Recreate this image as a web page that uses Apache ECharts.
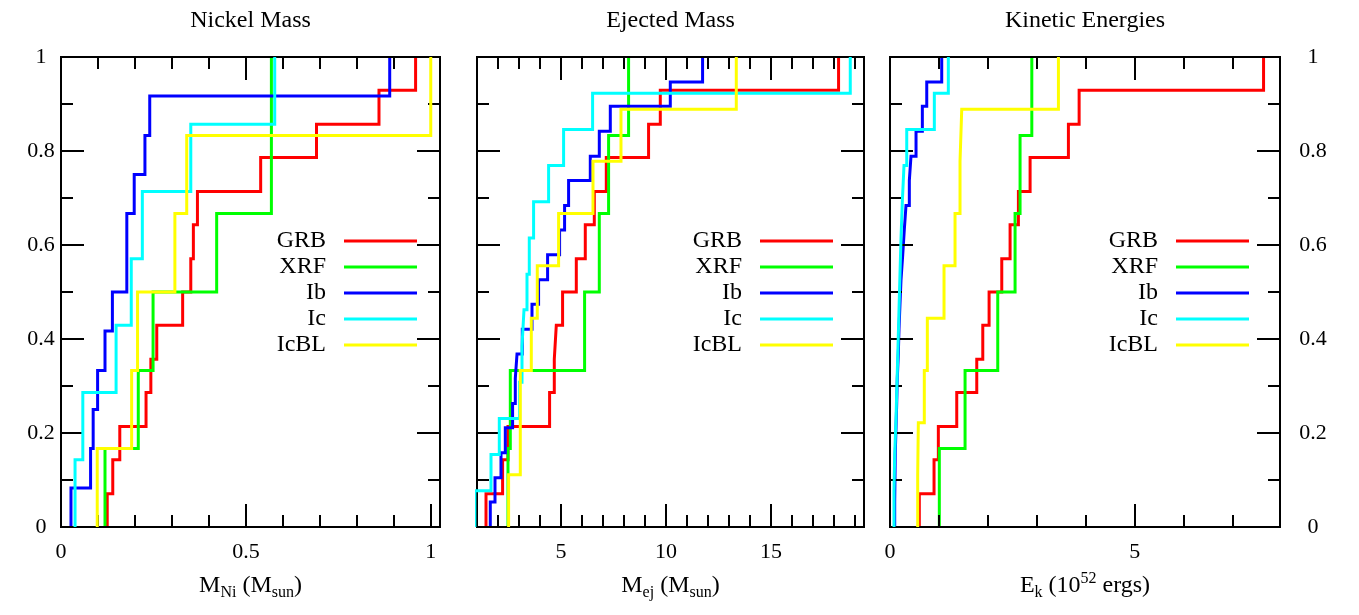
<!DOCTYPE html>
<html>
<head>
<meta charset="utf-8">
<title>SN / GRB distributions</title>
<script src="https://cdn.jsdelivr.net/npm/echarts@6/dist/echarts.min.js"></script>
<style>
html, body { margin: 0; padding: 0; background: #fff; }
#chart { width: 1359px; height: 615px; }
</style>
</head>
<body>
<div id="chart"></div>
<script>
var FONT = '"Liberation Serif", "Times New Roman", serif';
var BLACK = '#000';

var seriesNames = ['GRB', 'XRF', 'Ib', 'Ic', 'IcBL'];
var seriesColors = ['#ff0000', '#00ff00', '#0000ff', '#00ffff', '#ffff00'];

// y ticks, same on every panel
var yMajor = [0, 0.2, 0.4, 0.6, 0.8, 1];
var yMinor = [0.1, 0.3, 0.5, 0.7, 0.9];

//--------------------------Nickel Mass------------------//
var niMajor = [0, 0.5, 1];
var niMinor = [0.1, 0.2, 0.3, 0.4, 0.6, 0.7, 0.8, 0.9];
// [x where the cumulative fraction jumps, fraction after the jump]
var niGRB = [[0.125, 0.071], [0.140, 0.143], [0.159, 0.214], [0.230, 0.286], [0.243, 0.357], [0.259, 0.429], [0.329, 0.5],
  [0.351, 0.571], [0.358, 0.643], [0.369, 0.714], [0.540, 0.786], [0.691, 0.857], [0.860, 0.929], [0.959, 1]];
var niXRF = [[0.119, 0.167], [0.209, 0.333], [0.249, 0.5], [0.421, 0.667], [0.569, 1]];
var niIb = [[0.027, 0.083], [0.080, 0.167], [0.087, 0.25], [0.099, 0.333], [0.119, 0.417], [0.139, 0.5],
  [0.178, 0.667], [0.198, 0.75], [0.227, 0.833], [0.240, 0.917], [0.889, 1]];
var niIc = [[0.038, 0.143], [0.059, 0.286], [0.149, 0.429], [0.190, 0.571], [0.220, 0.714], [0.351, 0.857], [0.578, 1]];
var niIcBL = [[0.098, 0.167], [0.191, 0.333], [0.207, 0.5], [0.308, 0.667], [0.340, 0.833], [1.0, 1]];

//--------------------------Ejected Mass------------------//
var ejMajor = [5, 10, 15];
var ejMinor = [2, 3, 4, 6, 7, 8, 9, 11, 12, 13, 14, 16, 17, 18, 19];
var ejGRB = [[1.429, 0.071], [2.219, 0.143], [2.476, 0.214], [4.457, 0.286], [4.681, 0.357], [4.776, 0.429], [5.076, 0.5],
  [5.729, 0.571], [6.157, 0.643], [6.586, 0.714], [7.157, 0.786], [9.171, 0.857], [9.729, 0.929], [18.219, 1]];
var ejXRF = [[2.476, 0.167], [2.586, 0.333], [6.124, 0.5], [6.824, 0.667], [7.267, 0.833], [8.219, 1]];
var ejIb = [[1.633, 0.053], [1.857, 0.105], [2.143, 0.158], [2.348, 0.211], [2.695, 0.263], [2.824, 0.316], [2.905, 0.368],
  [3.157, 0.421], [3.619, 0.474], [3.933, 0.526], [4.362, 0.579], [4.933, 0.632], [5.171, 0.684], [5.362, 0.737],
  [6.395, 0.789], [6.824, 0.842], [7.348, 0.895], [10.205, 0.947], [11.743, 1]];
var ejIc = [[0.9, 0.077], [1.667, 0.154], [2.062, 0.231], [3.029, 0.308], [3.143, 0.385], [3.238, 0.462], [3.381, 0.538],
  [3.49, 0.615], [3.695, 0.692], [4.41, 0.769], [5.124, 0.846], [6.505, 0.923], [18.776, 1]];
var ejIcBL = [[2.505, 0.111], [3.062, 0.333], [3.586, 0.444], [3.871, 0.556], [4.886, 0.667], [6.524, 0.778], [7.857, 0.889], [13.348, 1]];

//--------------------------Kinetic Energies------------------//
var ekMajor = [0, 5];
var ekMinor = [1, 2, 3, 4, 6, 7];
var ekGRB = [[0.599, 0.071], [0.9, 0.143], [0.988, 0.214], [1.364, 0.286], [1.773, 0.357], [1.896, 0.429], [2.025, 0.5],
  [2.284, 0.571], [2.454, 0.643], [2.624, 0.714], [2.863, 0.786], [3.646, 0.857], [3.865, 0.929], [7.634, 1]];
var ekXRF = [[1.008, 0.167], [1.534, 0.333], [2.202, 0.5], [2.556, 0.667], [2.658, 0.833], [2.898, 1]];
var ekIb = [[0.096, 0.053], [0.102, 0.105], [0.108, 0.158], [0.123, 0.211], [0.137, 0.263], [0.149, 0.316], [0.17, 0.368],
  [0.184, 0.421], [0.204, 0.474], [0.225, 0.526], [0.26, 0.579], [0.292, 0.632], [0.327, 0.684], [0.395, 0.737],
  [0.429, 0.789], [0.532, 0.842], [0.661, 0.895], [0.751, 0.947], [1.057, 1]];
var ekIc = [[0.082, 0.077], [0.096, 0.154], [0.123, 0.231], [0.143, 0.308], [0.164, 0.385], [0.184, 0.462], [0.204, 0.538],
  [0.225, 0.615], [0.252, 0.692], [0.286, 0.769], [0.342, 0.846], [0.906, 0.923], [1.192, 1]];
var ekIcBL = [[0.566, 0.111], [0.579, 0.222], [0.701, 0.333], [0.763, 0.444], [1.104, 0.556], [1.329, 0.667], [1.431, 0.778], [1.466, 0.889], [3.442, 1]];

var panels = [
  { title: 'Nickel Mass', left: 61, width: 379, min: 0, max: 1.025, major: niMajor, minor: niMinor,
    name: '{m|M}{s|Ni}{m| (M}{s|sun}{m|)}', yLabel: 'left', legendRight: 942,
    data: [niGRB, niXRF, niIb, niIc, niIcBL] },
  { title: 'Ejected Mass', left: 477, width: 387, min: 1, max: 19.43, major: ejMajor, minor: ejMinor,
    name: '{m|M}{s|ej}{m| (M}{s|sun}{m|)}', yLabel: null, legendRight: 526,
    data: [ejGRB, ejXRF, ejIb, ejIc, ejIcBL] },
  { title: 'Kinetic Energies', left: 890, width: 390, min: 0, max: 7.97, major: ekMajor, minor: ekMinor,
    name: '{m|E}{s|k}{m| (10}{p|52}{m| ergs)}', yLabel: 'right', legendRight: 110,
    data: [ekGRB, ekXRF, ekIb, ekIc, ekIcBL] }
];

function makeAxis(gi, pos, min, max, ticks, len, showLabel) {
  var horiz = pos === 'bottom' || pos === 'top';
  return {
    gridIndex: gi, type: 'value', position: pos, min: min, max: max,
    splitLine: { show: false },
    axisLine: { show: true, onZero: false, lineStyle: { color: BLACK, width: 2 } },
    axisTick: { show: true, inside: true, length: len, customValues: ticks, lineStyle: { color: BLACK, width: 2 } },
    axisLabel: {
      show: showLabel, customValues: ticks, color: BLACK, fontFamily: FONT, fontSize: 22,
      margin: horiz ? 14 : (pos === 'left' ? 20 : 33), align: 'center'
    },
    z: 5
  };
}

// step line: start on the x axis, then one jump per point
function stepData(points) {
  var out = [[points[0][0], 0]];
  points.forEach(function (p) { out.push([p[0], p[1]]); });
  return out;
}

var grids = [], xAxes = [], yAxes = [], series = [], legends = [], titles = [];

panels.forEach(function (p, gi) {
  grids.push({ left: p.left, top: 57, width: p.width, height: 470 });
  titles.push({
    text: p.title, left: p.left + p.width / 2, top: 9, textAlign: 'center', padding: 0,
    textStyle: { fontFamily: FONT, fontSize: 24, fontWeight: 'normal', color: BLACK }
  });

  var xi = xAxes.length, yi = yAxes.length;
  var xMain = makeAxis(gi, 'bottom', p.min, p.max, p.major, 23, true);
  xMain.name = p.name;
  xMain.nameLocation = 'middle';
  xMain.nameGap = 44;
  xMain.nameTextStyle = {
    color: BLACK, fontFamily: FONT, fontSize: 24,
    rich: {
      m: { fontFamily: FONT, fontSize: 24, color: BLACK },
      s: { fontFamily: FONT, fontSize: 16, color: BLACK, padding: [14, 0, 0, 0] },
      p: { fontFamily: FONT, fontSize: 16, color: BLACK, padding: [0, 0, 14, 0] }
    }
  };
  xAxes.push(xMain);
  xAxes.push(makeAxis(gi, 'bottom', p.min, p.max, p.minor, 12, false));
  xAxes.push(makeAxis(gi, 'top', p.min, p.max, p.major, 23, false));
  xAxes.push(makeAxis(gi, 'top', p.min, p.max, p.minor, 12, false));

  yAxes.push(makeAxis(gi, 'left', 0, 1, yMajor, 23, p.yLabel === 'left'));
  yAxes.push(makeAxis(gi, 'left', 0, 1, yMinor, 12, false));
  yAxes.push(makeAxis(gi, 'right', 0, 1, yMajor, 23, p.yLabel === 'right'));
  yAxes.push(makeAxis(gi, 'right', 0, 1, yMinor, 12, false));

  p.data.forEach(function (pts, k) {
    series.push({
      name: seriesNames[k], type: 'line', step: 'end',
      xAxisIndex: xi, yAxisIndex: yi,
      data: stepData(pts),
      showSymbol: false, symbol: 'none',
      color: seriesColors[k],
      lineStyle: { color: seriesColors[k], width: 3, cap: 'butt', join: 'miter' },
      z: 2 + k
    });
  });

  legends.push({
    data: seriesNames, orient: 'vertical', align: 'right',
    right: p.legendRight, top: 229, padding: 0,
    itemWidth: 73, itemHeight: 3, itemGap: 2, icon: 'rect', selectedMode: false,
    textStyle: { fontFamily: FONT, fontSize: 24, color: BLACK, lineHeight: 22, padding: [0, 13, 0, 0] }
  });
});

var myChart = echarts.init(document.getElementById('chart'));
myChart.setOption({
  animation: false,
  backgroundColor: '#fff',
  title: titles,
  grid: grids,
  xAxis: xAxes,
  yAxis: yAxes,
  legend: legends,
  series: series
});
</script>
</body>
</html>
